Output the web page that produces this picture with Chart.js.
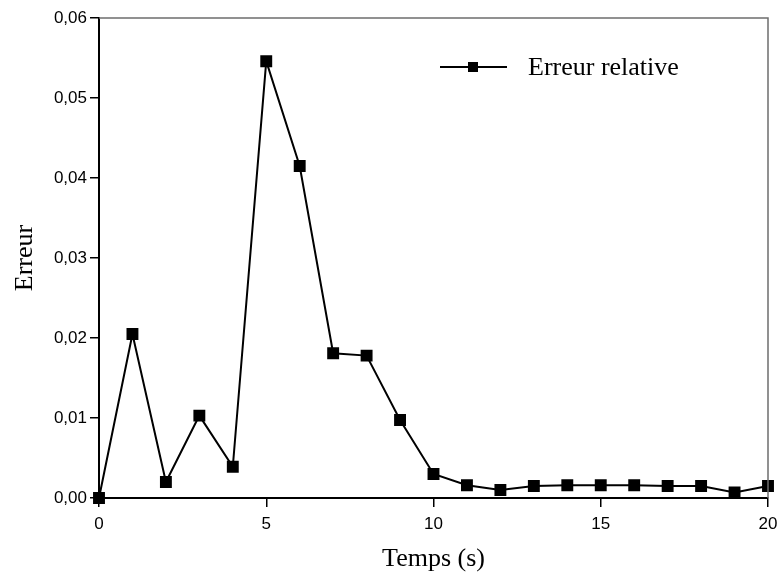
<!DOCTYPE html>
<html>
<head>
<meta charset="utf-8">
<script src="https://cdn.jsdelivr.net/npm/chart.js@4"></script>
<style>
  html, body { margin: 0; padding: 0; background: #fff; }
  #wrap { width: 782px; height: 575px; }
</style>
</head>
<body>
<div id="wrap"><canvas id="erreurChart" width="782" height="575"></canvas></div>
<script>
// Temps (s) et erreur relative
const temps = [0, 1, 2, 3, 4, 5, 6, 7, 8, 9, 10, 11, 12, 13, 14, 15, 16, 17, 18, 19, 20];
const erreurRelative = [0.0, 0.0205, 0.0020, 0.0103, 0.0039, 0.0546, 0.0415, 0.0181, 0.0178, 0.00975,
    0.0030, 0.0016, 0.0010, 0.0015, 0.0016, 0.0016, 0.0016, 0.0015, 0.0015, 0.0007, 0.0015];
const xTicks = [0, 5, 10, 15, 20];
const yTicks = [0, 0.01, 0.02, 0.03, 0.04, 0.05, 0.06];
const serieLabel = 'Erreur relative';

const sansFont = "'Liberation Sans', Arial, sans-serif";
const serifFont = "'Liberation Serif', 'Times New Roman', serif";

// frame on top/right + legend inside the plot
const framePlugin = {
    id: 'frameLegend',
    afterDraw(chart) {
        const { ctx, chartArea: a } = chart;
        ctx.save();
        ctx.strokeStyle = '#6e6e6e';
        ctx.lineWidth = 1.5;
        ctx.beginPath();
        ctx.moveTo(a.left, a.top);
        ctx.lineTo(a.right, a.top);
        ctx.lineTo(a.right, a.bottom);
        ctx.stroke();

        // legend
        const ly = a.top + 49;
        const lx = a.left + 341;
        ctx.strokeStyle = '#000';
        ctx.lineWidth = 2;
        ctx.beginPath();
        ctx.moveTo(lx, ly);
        ctx.lineTo(lx + 67, ly);
        ctx.stroke();
        ctx.fillStyle = '#000';
        ctx.fillRect(lx + 33 - 5, ly - 5, 10, 10);
        ctx.font = '26px ' + serifFont;
        ctx.textBaseline = 'middle';
        ctx.fillText(chart.data.datasets[0].label, lx + 88, ly + 1);
        ctx.restore();
    }
};

new Chart(document.getElementById('erreurChart'), {
    type: 'line',
    data: {
        datasets: [{
            label: serieLabel,
            data: temps.map((t, i) => ({ x: t, y: erreurRelative[i] })),
            borderColor: '#000',
            backgroundColor: '#000',
            borderWidth: 2,
            pointStyle: 'rect',
            pointRadius: 7,
            pointHoverRadius: 7,
            tension: 0,
            fill: false,
            clip: false
        }]
    },
    options: {
        responsive: false,
        animation: false,
        events: [],
        layout: { padding: { left: 10, top: 18, right: 14, bottom: 0 } },
        plugins: {
            legend: { display: false },
            tooltip: { enabled: false }
        },
        scales: {
            x: {
                type: 'linear',
                min: 0,
                max: 20,
                afterBuildTicks: s => { s.ticks = xTicks.map(v => ({ value: v })); },
                afterFit: s => { s.height = 77; s.paddingLeft = 0; s.paddingRight = 0; },
                border: { color: '#000', width: 2 },
                grid: { drawOnChartArea: false, drawTicks: true, tickLength: 9, color: '#000', lineWidth: 1.5 },
                ticks: {
                    color: '#000',
                    padding: 7,
                    font: { family: sansFont, size: 17 }
                },
                title: {
                    display: true,
                    text: 'Temps (s)',
                    color: '#000',
                    padding: { top: 0, bottom: 0 },
                    font: { family: serifFont, size: 26 }
                }
            },
            y: {
                type: 'linear',
                min: 0,
                max: 0.06,
                afterBuildTicks: s => { s.ticks = yTicks.map(v => ({ value: v })); },
                afterFit: s => { s.width = 89; s.paddingTop = 0; s.paddingBottom = 0; },
                border: { color: '#000', width: 2 },
                grid: { drawOnChartArea: false, drawTicks: true, tickLength: 9, color: '#000', lineWidth: 1.5 },
                ticks: {
                    color: '#000',
                    padding: 3,
                    font: { family: sansFont, size: 17 },
                    callback: v => v.toFixed(2).replace('.', ',')
                },
                title: {
                    display: true,
                    text: 'Erreur',
                    color: '#000',
                    padding: { top: 0, bottom: 8 },
                    font: { family: serifFont, size: 26 }
                }
            }
        }
    },
    plugins: [framePlugin]
});
</script>
</body>
</html>
